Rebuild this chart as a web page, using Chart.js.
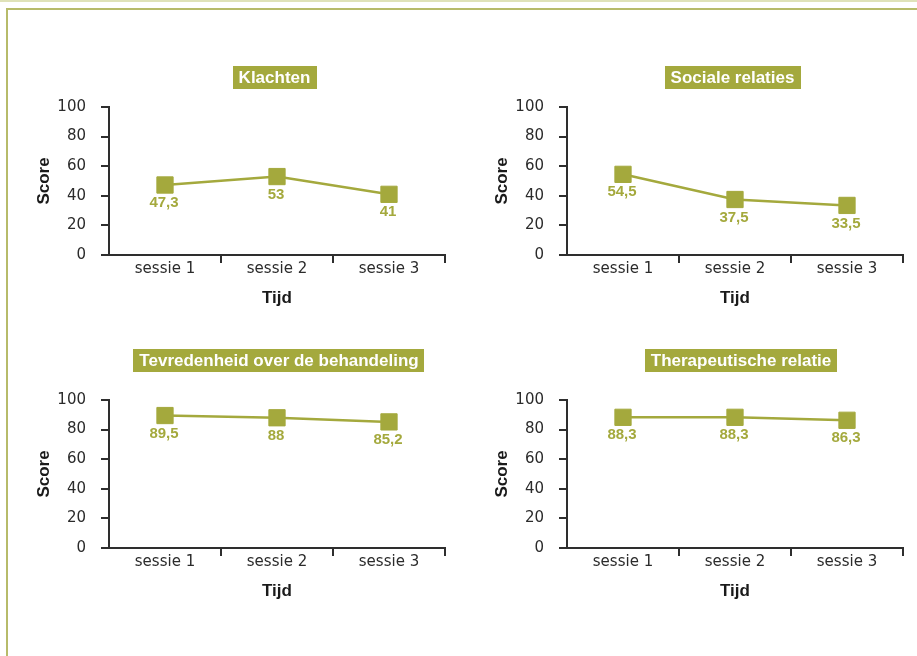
<!DOCTYPE html>
<html>
<head>
<meta charset="utf-8">
<script src="https://cdn.jsdelivr.net/npm/chart.js@4.4.0/dist/chart.umd.min.js"></script>
<style>
  html, body { margin: 0; padding: 0; background: #fff; width: 917px; height: 656px; overflow: hidden; }
  .topline { position: absolute; left: 0; top: 0; width: 917px; height: 2px; background: #dfe2b8; }
  .frame { position: absolute; left: 6px; top: 8px; width: 930px; height: 700px;
           border-top: 2px solid #b7bb6a; border-left: 2px solid #b7bb6a; }
  canvas { position: absolute; }
</style>
</head>
<body>
<div class="topline"></div>
<div class="frame"></div>
<canvas id="c1" width="458" height="328" style="left:0px;top:0px"></canvas>
<canvas id="c2" width="458" height="328" style="left:458px;top:0px"></canvas>
<canvas id="c3" width="458" height="328" style="left:0px;top:293px"></canvas>
<canvas id="c4" width="458" height="328" style="left:458px;top:293px"></canvas>
<script>
// Sessions on the x axis
const sessies = ['sessie 1', 'sessie 2', 'sessie 3'];
// Score axis ticks
const scoreTicks = [0, 20, 40, 60, 80, 100];

// Scores per domain
const klachten = [47.3, 53, 41];
const socialeRelaties = [54.5, 37.5, 33.5];
const tevredenheid = [89.5, 88, 85.2];
const therapeutischeRelatie = [88.3, 88.3, 86.3];

const titles = ['Klachten', 'Sociale relaties', 'Tevredenheid over de behandeling', 'Therapeutische relatie'];

const OLIVE = '#a4a93d';
const AXIS = '#2e2e2e';

// Olive box with the panel title, centred above the plot area
const panelTitle = {
  id: 'panelTitle',
  afterDraw(chart, args, opts) {
    const { ctx, chartArea } = chart;
    ctx.save();
    ctx.font = 'bold 17px "Liberation Sans", Arial, sans-serif';
    const w = ctx.measureText(opts.text).width + 12;
    const h = 23;
    const cx = (chartArea.left + chartArea.right) / 2 + opts.dx;
    const cy = chartArea.top - opts.gap;
    ctx.fillStyle = OLIVE;
    ctx.fillRect(Math.round(cx - w / 2), Math.round(cy - h / 2), Math.round(w), h);
    ctx.fillStyle = '#ffffff';
    ctx.textAlign = 'center';
    ctx.textBaseline = 'middle';
    ctx.fillText(opts.text, cx, cy + 1);
    ctx.restore();
  }
};

// Value printed beneath each marker
const valueLabels = {
  id: 'valueLabels',
  afterDatasetsDraw(chart) {
    const { ctx } = chart;
    const meta = chart.getDatasetMeta(0);
    const values = chart.data.datasets[0].data;
    ctx.save();
    ctx.font = 'bold 15px "Liberation Sans", Arial, sans-serif';
    ctx.fillStyle = OLIVE;
    ctx.textAlign = 'center';
    ctx.textBaseline = 'middle';
    meta.data.forEach((pt, i) => {
      ctx.fillText(String(values[i]).replace('.', ','), pt.x - 1, pt.y + 18);
    });
    ctx.restore();
  }
};

function makePanel(id, values, title, gap, dx) {
  new Chart(document.getElementById(id), {
    type: 'line',
    data: {
      labels: sessies,
      datasets: [{
        data: values,
        borderColor: OLIVE,
        borderWidth: 2.5,
        backgroundColor: OLIVE,
        pointStyle: 'rect',
        pointRadius: 11.5,
        pointHoverRadius: 11.5,
        pointBorderWidth: 1,
        pointBorderColor: OLIVE,
        pointBackgroundColor: OLIVE,
        tension: 0,
        fill: false
      }]
    },
    options: {
      responsive: false,
      animation: false,
      devicePixelRatio: 1,
      layout: { padding: { top: 107, right: 13, left: 0, bottom: 0 } },
      plugins: {
        legend: { display: false },
        tooltip: { enabled: false },
        panelTitle: { text: title, gap: gap, dx: dx }
      },
      scales: {
        x: {
          type: 'category',
          offset: true,
          afterFit(scale) { scale.height = 73; },
          grid: {
            offset: true,
            drawOnChartArea: false,
            drawTicks: true,
            tickLength: 8,
            lineWidth: 2,
            color: (c) => (c.index === 0 ? 'rgba(0,0,0,0)' : AXIS)
          },
          border: { display: true, color: AXIS, width: 2 },
          ticks: {
            padding: -3,
            color: '#2b2b2b',
            font: { family: '"DejaVu Sans", sans-serif', size: 15 }
          },
          title: {
            display: true,
            text: 'Tijd',
            color: '#1a1a1a',
            font: { family: '"Liberation Sans", Arial, sans-serif', size: 17, weight: 'bold' },
            padding: { top: 0, bottom: 19 }
          }
        },
        y: {
          min: 0,
          max: 100,
          afterFit(scale) { scale.width = 109; },
          afterBuildTicks(scale) { scale.ticks = scoreTicks.map(v => ({ value: v })); },
          grid: {
            drawOnChartArea: false,
            drawTicks: true,
            tickLength: 8,
            lineWidth: 2,
            color: AXIS
          },
          border: { display: true, color: AXIS, width: 2 },
          ticks: {
            padding: 15,
            color: '#2b2b2b',
            font: { family: '"DejaVu Sans", sans-serif', size: 15 }
          },
          title: {
            display: true,
            text: 'Score',
            color: '#1a1a1a',
            font: { family: '"Liberation Sans", Arial, sans-serif', size: 17, weight: 'bold' },
            padding: { top: 34, bottom: 0 }
          }
        }
      }
    },
    plugins: [panelTitle, valueLabels]
  });
}

makePanel('c1', klachten, titles[0], 29.5, -2.5);
makePanel('c2', socialeRelaties, titles[1], 29.5, -2.5);
makePanel('c3', tevredenheid, titles[2], 39.5, 2);
makePanel('c4', therapeutischeRelatie, titles[3], 39.5, 6);
</script>
</body>
</html>
